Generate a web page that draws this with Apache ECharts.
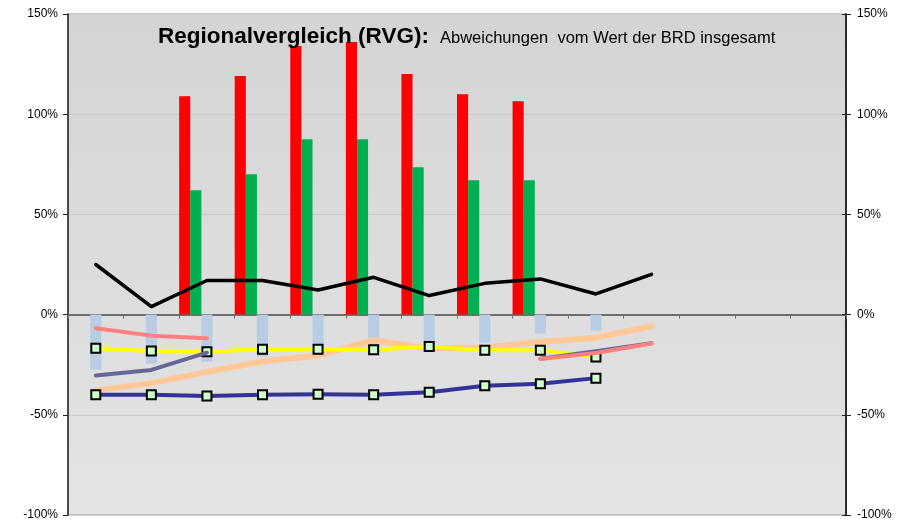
<!DOCTYPE html>
<html>
<head>
<meta charset="utf-8">
<script src="https://cdn.jsdelivr.net/npm/echarts@6/dist/echarts.min.js"></script>
<style>
html,body{margin:0;padding:0;background:#fff;}
#chart{width:915px;height:524px;}
</style>
</head>
<body>
<div id="chart"></div>
<script>
// ---- data ----
var categories = ['1','2','3','4','5','6','7','8','9','10','11','12','13','14'];
var yTicks = [-100, -50, 0, 50, 100, 150];
var redBars   = [null, null, 109, 119, 134, 136, 120, 110, 106.5, null, null, null, null, null];
var greenBars = [null, null, 62, 70, 87.5, 87.5, 73.5, 67, 67, null, null, null, null, null];
var blueBars  = [-27.5, -24.5, -23.5, -21, -19.5, -17.5, -16, -14, -9.5, -8, null, null, null, null];
var blackLine  = [25, 4, 17, 17, 12.3, 18.6, 9.5, 15.6, 17.8, 10.3, 20.1, null, null, null];
var yellowLine = [-16.8, -18.2, -18.5, -17.3, -17.3, -17.6, -15.9, -17.8, -17.8, -21.2, null, null, null, null];
var navyLine   = [-40, -40, -40.6, -40, -39.7, -40, -38.7, -35.5, -34.5, -31.7, null, null, null, null];
var slateLine  = [-30.4, -27.6, -19, null, null, null, null, null, -22, -18.3, -14.3, null, null, null];
var pinkLine   = [-6.8, -10.5, -11.8, null, null, null, null, null, -22.1, -19.2, -14.4, null, null, null];
var orangeLine = [-37.8, -34.2, -28.6, -23.4, -20.4, -12.8, -16.8, -16.4, -13.7, -11.5, -5.8, null, null, null];
var emptyBars  = [];

var FONT = '"Liberation Sans", Arial, sans-serif';
var chart = echarts.init(document.getElementById('chart'), null, {renderer: 'canvas'});

function yAxisBase(pos) {
  return {
    type: 'value', position: pos,
    min: yTicks[0], max: yTicks[yTicks.length - 1], interval: 50,
    axisLine: {show: true, lineStyle: {color: '#222', width: 1.5}},
    axisTick: {show: true, length: 5, lineStyle: {color: '#222', width: 1}},
    axisLabel: {formatter: '{value}%', color: '#000', fontSize: 12, fontFamily: FONT, margin: 10},
    splitLine: {show: false}
  };
}
var yLeft = yAxisBase('left');
yLeft.splitLine = {show: true, lineStyle: {color: '#cacaca', width: 1}};
var yRight = yAxisBase('right');
yRight.axisLabel.margin = 11;
var yRightIn = yAxisBase('right');
yRightIn.axisTick = {show: true, inside: true, length: 4, lineStyle: {color: '#222', width: 1}};
yRightIn.axisLabel = {show: false};

function lineSeries(name, data, color, width, markers, z) {
  return {
    name: name, type: 'line', data: data, z: z,
    connectNulls: false, smooth: false,
    showSymbol: markers, symbol: 'rect', symbolSize: 9,
    itemStyle: {color: '#ccffcc', borderColor: '#000', borderWidth: 2},
    lineStyle: {color: color, width: width, cap: 'round', join: 'round'},
    emphasis: {disabled: true}, animation: false
  };
}
function barSeries(name, data, color) {
  return {
    name: name, type: 'bar', data: data, z: 2,
    barGap: '0%', barCategoryGap: '0%',
    itemStyle: {color: color},
    emphasis: {disabled: true}, animation: false
  };
}

chart.setOption({
  animation: false,
  backgroundColor: '#ffffff',
  grid: {
    left: 68, right: 69, top: 14, bottom: 9,
    show: true,
    borderColor: '#9a9a9a', borderWidth: 1,
    backgroundColor: new echarts.graphic.LinearGradient(0, 0, 0, 1, [
      {offset: 0, color: '#d4d4d4'},
      {offset: 1, color: '#e4e4e4'}
    ])
  },
  xAxis: {
    type: 'category', data: categories, boundaryGap: true,
    axisLine: {onZero: true, lineStyle: {color: '#6e6e6e', width: 2}},
    axisTick: {show: true, length: 4, alignWithLabel: false, lineStyle: {color: '#6e6e6e', width: 1}},
    axisLabel: {show: false},
    splitLine: {show: false}
  },
  yAxis: [yLeft, yRight, yRightIn],
  graphic: [
    {type: 'text', x: 158, y: 37, z: 100,
     style: {text: 'Regionalvergleich (RVG):', font: 'bold 22.5px ' + FONT, fill: '#000', verticalAlign: 'middle'}},
    {type: 'text', x: 440, y: 38.5, z: 100,
     style: {text: 'Abweichungen  vom Wert der BRD insgesamt', font: '16.5px ' + FONT, fill: '#000', verticalAlign: 'middle'}}
  ],
  series: [
    barSeries('Rot', redBars, '#ff0000'),
    barSeries('Grün', greenBars, '#00b050'),
    barSeries('Blau', blueBars, '#b8cce4'),
    barSeries('Leer 1', emptyBars, '#ffffff'),
    barSeries('Leer 2', emptyBars, '#ffffff'),
    lineSeries('Orange', orangeLine, '#ffc896', 6, false, 3),
    lineSeries('Gelb', yellowLine, '#ffff00', 4, true, 4),
    lineSeries('Dunkelblau', navyLine, '#333399', 4, true, 5),
    lineSeries('Schiefer', slateLine, '#666699', 4, false, 6),
    lineSeries('Rosa', pinkLine, '#ff8080', 4, false, 7),
    lineSeries('Schwarz', blackLine, '#000000', 3.5, false, 8)
  ]
});
</script>
</body>
</html>
